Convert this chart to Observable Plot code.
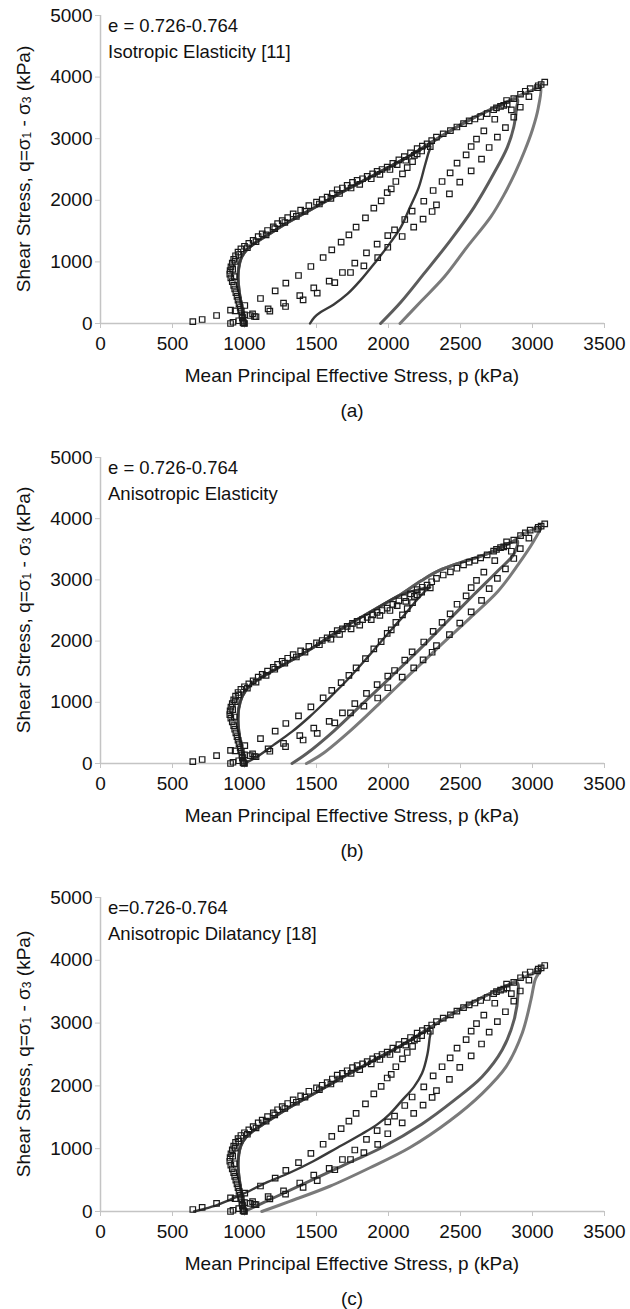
<!DOCTYPE html>
<html><head><meta charset="utf-8">
<script src="https://cdn.jsdelivr.net/npm/d3@7"></script>
<script src="https://cdn.jsdelivr.net/npm/@observablehq/plot@0.6"></script>
<style>
body{margin:0;background:#fff;width:630px;overflow:hidden;}
svg{display:block;}
</style></head><body><div id="root"></div>
<script>
// ---------- axis ticks & texts ----------
const xTicks = [0, 500, 1000, 1500, 2000, 2500, 3000, 3500];
const yTicks = [0, 1000, 2000, 3000, 4000, 5000];
const panelLabels = ["(a)", "(b)", "(c)"];
const voidRatioText = ["e = 0.726-0.764", "e = 0.726-0.764", "e=0.726-0.764"];
const modelText = ["Isotropic Elasticity [11]", "Anisotropic Elasticity", "Anisotropic Dilatancy [18]"];
const xTitle = "Mean Principal Effective Stress, p (kPa)";

// ---------- experimental data (same in all panels), [p, q] in kPa ----------
const expMain = [[995,5],[990,40],[985,90],[982,140],[978,200],[970,260],[962,320],[955,380],[948,440],[940,500],[932,560],[925,620],[915,680],[905,740],[898,800],[900,860],[906,920],[915,980],[925,1040],[938,1100],[955,1160],[975,1210],
 [1000,1254],[1030,1300],[1060,1350],[1095,1410],[1123,1455],[1160,1510],[1200,1570],[1230,1620],[1262,1671],[1300,1720],[1338,1779],[1390,1840],[1447,1915],[1500,1970],[1540,2010],[1574,2052],[1610,2110],[1644,2171],[1680,2200],[1713,2241],[1750,2290],[1782,2322],[1820,2350],[1852,2387],[1890,2430],[1921,2468],[1955,2500],[1991,2538],[2030,2600],[2072,2657],[2110,2710],[2153,2771],[2199,2840],[2235,2880],[2268,2916],[2300,2970],[2333,3024],[2380,3080],[2430,3130],[2475,3190],[2521,3246],[2560,3290],[2600,3320],[2640,3360],[2685,3408],[2730,3470],[2778,3526],[2824,3560],[2870,3650],[2917,3722],[2950,3770],[2984,3814],[3040,3860],[3060,3880],[3085,3917]];
const expUpper2 = [[930,760],[918,880],[935,1010],[960,1120],[1020,1230],[1080,1330],[1150,1440],[1210,1540],[1280,1640],[1360,1740],[1420,1820],[1520,1940],[1600,2030],[1660,2110],[1740,2200],[1800,2260],[1880,2350],[1940,2420],[2010,2500],[2060,2580],[2120,2650],[2180,2730],[2230,2800],[2290,2870],[2750,3500],[2800,3540],[2820,3620]];
const expBranch1 = [[641,32],[706,65],[806,130],[903,216],[1002,292],[1111,406],[1213,530],[1287,654],[1375,779],[1461,925],[1546,1071],[1606,1196],[1671,1320],[1725,1439],[1775,1563],[1840,1715],[1898,1872],[1949,1991],[1991,2126],[2019,2185],[2051,2305],[2097,2430],[2130,2532],[2167,2629],[2199,2754]];
const expBranch2a = [[1056,157],[1164,238],[1271,330],[1384,454],[1481,579],[1588,687],[1680,828],[1766,979],[1847,1147],[1921,1288],[1995,1428],[2042,1520],[2113,1688],[2164,1823],[2245,1985],[2310,2159],[2372,2305],[2428,2445],[2476,2602],[2539,2738],[2574,2873],[2611,2992],[2662,3127],[2738,3316],[2853,3468]];
const expBranch2b = [[1069,114],[1176,200],[1285,276],[1407,384],[1505,492],[1627,665],[1736,828],[1829,936],[1925,1070],[1995,1238],[2095,1412],[2175,1563],[2240,1693],[2303,1818],[2333,1926],[2423,2105],[2495,2294],[2574,2478],[2646,2667],[2699,2857],[2756,3024],[2812,3181],[2870,3350],[2915,3511],[2975,3684],[3035,3830]];
const expBase = [[920,20],[960,45],[990,15],[1000,0],[985,100],[1000,140],[1040,130],[1080,110],[935,205],[903,0]];

// ---------- model predictions, [p, q] in kPa ----------
const upperA = [[1000,0],[990,150],[975,350],[962,550],[955,750],[960,900],[975,1050],[1010,1180],[1070,1300],[1150,1420],[1300,1640],[1500,1900],[1700,2160],[1900,2410],[2100,2660],[2270,2900],[2430,3130],[2600,3350],[2780,3550],[2920,3710],[3010,3800],[3055,3850]];
const upperB = [[1000,0],[985,200],[965,450],[955,700],[960,900],[985,1100],[1040,1280],[1150,1450],[1300,1650],[1480,1900],[1700,2240],[1900,2510],[2070,2740],[2230,2990],[2350,3150],[2510,3290],[2680,3420],[2850,3610],[2930,3740],[3040,3860],[3055,3870]];
const upperC = [[1000,0],[990,150],[975,350],[962,550],[955,750],[960,900],[975,1050],[1010,1180],[1070,1300],[1150,1420],[1300,1640],[1500,1900],[1700,2160],[1900,2410],[2100,2660],[2270,2900],[2430,3130],[2600,3350],[2780,3550],[2920,3710],[3010,3800],[3055,3850]];
const darkA = [[1455,0],[1485,100],[1530,185],[1620,310],[1715,480],[1805,700],[1900,970],[1990,1240],[2085,1560],[2150,1890],[2210,2210],[2250,2540],[2275,2750],[2290,2880]];
const mid1A = [[1945,0],[2085,345],[2245,805],[2430,1350],[2595,1890],[2730,2430],[2825,2860],[2870,3190],[2890,3510],[2895,3640]];
const mid2A = [[2080,0],[2220,345],[2385,750],[2545,1240],[2710,1730],[2800,2080],[2880,2450],[2945,2800],[3000,3150],[3040,3500],[3055,3850]];
const darkB = [[1000,0],[1080,100],[1200,300],[1330,520],[1450,760],[1580,1050],[1720,1380],[1860,1750],[1980,2080],[2100,2400],[2200,2680],[2260,2830],[2290,2880]];
const mid1B = [[1330,0],[1425,150],[1620,530],[1815,965],[2010,1400],[2205,1840],[2400,2300],[2595,2765],[2760,3150],[2870,3420],[2895,3640]];
const mid2B = [[1430,0],[1537,150],[1732,530],[1954,1020],[2150,1460],[2370,1950],[2567,2380],[2762,2820],[2900,3250],[3010,3640],[3055,3860]];
const darkC = [[650,0],[700,30],[813,107],[980,268],[1147,456],[1314,617],[1481,805],[1648,1020],[1815,1234],[1927,1395],[2010,1556],[2094,1770],[2177,1985],[2233,2200],[2270,2500],[2285,2750],[2290,2880]];
const mid1C = [[1000,0],[1200,215],[1425,456],[1676,724],[1954,1019],[2233,1395],[2455,1770],[2650,2146],[2790,2575],[2873,3058],[2900,3490],[2895,3640]];
const mid2C = [[1120,0],[1314,161],[1592,402],[1871,697],[2149,1019],[2428,1449],[2650,1878],[2817,2307],[2929,2844],[2990,3380],[3020,3700],[3055,3850]];

// ---------- styles ----------
const darkColor = "#3a3a3a", mid1Color = "#5c5c5c", mid2Color = "#7a7a7a";
const axisColor = "#c4c4c4";
const font = "'Liberation Sans', Arial, sans-serif";

const panels = [
  {upper: upperA, dark: darkA, mid1: mid1A, mid2: mid2A, height: 436, top: 15, bottom: 113},
  {upper: upperB, dark: darkB, mid1: mid1B, mid2: mid2B, height: 436, top: 21, bottom: 109},
  {upper: upperC, dark: darkC, mid1: mid1C, mid2: mid2C, height: 437, top: 25, bottom: 98}
];

function fullPath(branch, upper) {
  const peakQ = branch[branch.length - 1][1];
  const back = upper.filter(d => d[1] < peakQ).reverse();
  return branch.concat(back).map(([p, q]) => ({p, q}));
}
const toObj = arr => arr.map(([p, q]) => ({p, q}));

const root = document.getElementById("root");
panels.forEach((P, i) => {
  const exp = [expMain, expUpper2, expBranch1, expBranch2a, expBranch2b, expBase].flatMap(toObj);
  const chart = Plot.plot({
    width: 630, height: P.height,
    marginLeft: 100, marginRight: 26, marginTop: P.top, marginBottom: P.bottom,
    x: {domain: [0, 3500], ticks: xTicks, tickSize: 5, tickPadding: 8, tickFormat: d => String(d), label: null},
    y: {domain: [0, 5000], ticks: yTicks, tickSize: 5, tickPadding: 3, tickFormat: d => String(d), label: null},
    style: {fontFamily: font, fontSize: "19px", color: "#111", background: "#fff", overflow: "visible"},
    marks: [
      Plot.ruleY([0], {stroke: axisColor, strokeWidth: 1.5}),
      Plot.ruleX([0], {stroke: axisColor, strokeWidth: 1.5}),
      Plot.line(fullPath(P.mid2, P.upper), {x: "p", y: "q", stroke: mid2Color, strokeWidth: 3, curve: "catmull-rom"}),
      Plot.line(fullPath(P.mid1, P.upper), {x: "p", y: "q", stroke: mid1Color, strokeWidth: 3, curve: "catmull-rom"}),
      Plot.line(fullPath(P.dark, P.upper), {x: "p", y: "q", stroke: darkColor, strokeWidth: 2.4, curve: "catmull-rom"}),
      Plot.dot(exp, {x: "p", y: "q", symbol: "square", r: 3.1, stroke: "#1a1a1a", strokeWidth: 1.2, fill: "none"})
    ]
  });
  const svg = d3.select(chart);
  svg.selectAll('g[aria-label="x-axis tick"], g[aria-label="y-axis tick"]').attr("stroke", axisColor);
  const x0 = 100, x1 = 604, yTop = P.top, yBot = P.height - P.bottom;
  const tx = 108;
  const add = () => svg.append("text").attr("font-size", 18.5).attr("fill", "#111").attr("dominant-baseline", "middle");
  add().attr("x", tx).attr("y", yTop + 12).attr("text-anchor", "start").text(voidRatioText[i]);
  add().attr("x", tx).attr("y", yTop + 38).attr("text-anchor", "start").text(modelText[i]);
  add().attr("font-size", 19).attr("x", (x0 + x1) / 2).attr("y", yBot + 54).attr("text-anchor", "middle").text(xTitle);
  add().attr("font-size", 19).attr("x", (x0 + x1) / 2).attr("y", yBot + 89).attr("text-anchor", "middle").text(panelLabels[i]);
  const yt = add().attr("font-size", 19).attr("transform", `translate(25,${(yTop + yBot) / 2}) rotate(-90)`)
    .attr("text-anchor", "middle");
  yt.append("tspan").text("Shear Stress, q=σ");
  yt.append("tspan").attr("font-size", 12).attr("dy", "3").text("1");
  yt.append("tspan").attr("dy", "-3").text(" - σ");
  yt.append("tspan").attr("font-size", 12).attr("dy", "3").text("3");
  yt.append("tspan").attr("dy", "-3").text(" (kPa)");
  root.appendChild(chart);
});
</script></body></html>
